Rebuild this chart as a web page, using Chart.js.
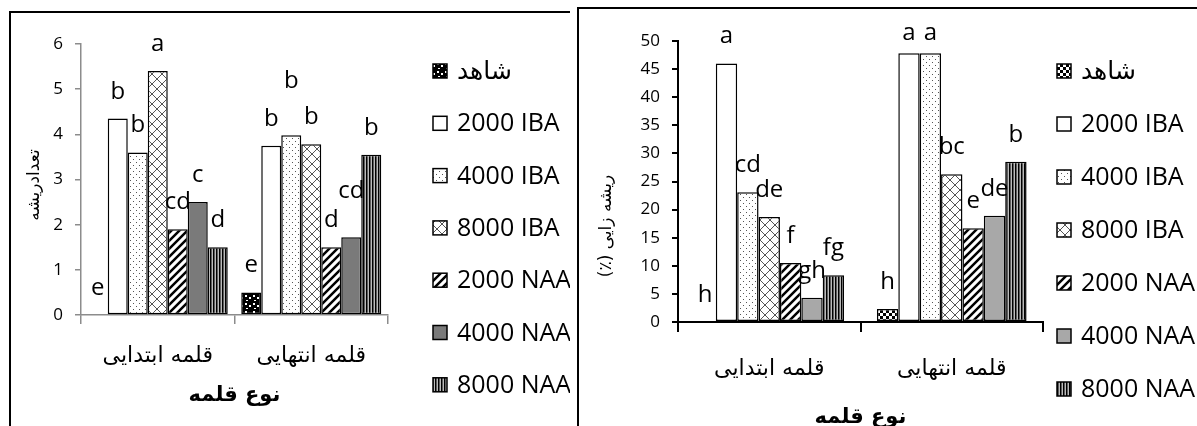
<!DOCTYPE html>
<html>
<head>
<meta charset="utf-8">
<script src="https://cdn.jsdelivr.net/npm/chart.js@4.4.0/dist/chart.umd.min.js"></script>
<style>
  html, body { margin: 0; padding: 0; background: #fff; overflow: hidden; width: 1197px; height: 426px; }
  .frame { position: absolute; border-left: 2px solid #000; border-top: 2px solid #000; background: #fff; }
  canvas { position: absolute; }
</style>
</head>
<body>
<div class="frame" style="left:9px; top:11px; width:559px; height:440px;"></div>
<div class="frame" style="left:577px; top:7px; width:640px; height:440px;"></div>
<canvas id="countChart" width="558" height="412" style="left:12px; top:14px;"></canvas>
<canvas id="rootChart" width="617" height="440" style="left:580px; top:10px;"></canvas>
<script>
const categories = ['قلمه ابتدایی', 'قلمه انتهایی'];
const treatments = ['شاهد', '2000 IBA', '4000 IBA', '8000 IBA', '2000 NAA', '4000 NAA', '8000 NAA'];

// chart 1 : تعدادریشه
const countInitial = [0, 4.35, 3.6, 5.4, 1.9, 2.5, 1.5];
const countTerminal = [0.5, 3.75, 3.98, 3.78, 1.5, 1.72, 3.55];
const countLettersInitial = ['e', 'b', 'b', 'a', 'cd', 'c', 'd'];
const countLettersTerminal = ['e', 'b', 'b', 'b', 'd', 'cd', 'b'];
const countTicks = [0, 1, 2, 3, 4, 5, 6];

// chart 2 : ریشه زایی (%)
const rootInitial = [0, 46, 23.1, 18.7, 10.5, 4.3, 8.3];
const rootTerminal = [2.3, 47.8, 47.8, 26.3, 16.7, 18.9, 28.5];
const rootLettersInitial = ['h', 'a', 'cd', 'de', 'f', 'gh', 'fg'];
const rootLettersTerminal = ['h', 'a', 'a', 'bc', 'e', 'de', 'b'];
const rootTicks = [0, 5, 10, 15, 20, 25, 30, 35, 40, 45, 50];

const latin = '"Open Sans", sans-serif';
const arabic = '"DejaVu Sans", sans-serif';

// excel style hatch fills
function makePattern(kind) {
  const size = { confetti: 8, checker: 6, dots: 6, cross: 10, diag: 8, vlines: 3 }[kind];
  const c = document.createElement('canvas');
  c.width = c.height = size;
  const g = c.getContext('2d');
  g.fillStyle = '#fff';
  g.fillRect(0, 0, size, size);
  g.fillStyle = '#000';
  g.strokeStyle = '#000';
  if (kind === 'confetti') {
    g.fillRect(0, 0, 8, 8);
    g.fillStyle = '#fff';
    g.fillRect(1, 1, 2, 2);
    g.fillRect(5, 3, 2, 2);
    g.fillRect(2, 6, 2, 1);
  } else if (kind === 'checker') {
    g.fillRect(0, 0, 3, 3);
    g.fillRect(3, 3, 3, 3);
  } else if (kind === 'dots') {
    g.fillStyle = '#555';
    g.fillRect(1, 1, 1, 1);
    g.fillRect(4, 4, 1, 1);
  } else if (kind === 'cross') {
    g.strokeStyle = '#555';
    g.lineWidth = 1;
    g.beginPath();
    g.moveTo(0, 0); g.lineTo(10, 10);
    g.moveTo(10, 0); g.lineTo(0, 10);
    g.stroke();
  } else if (kind === 'diag') {
    g.lineWidth = 2.5;
    g.beginPath();
    g.moveTo(-2, 10); g.lineTo(10, -2);
    g.moveTo(-6, 6); g.lineTo(6, -6);
    g.moveTo(2, 14); g.lineTo(14, 2);
    g.stroke();
  } else if (kind === 'vlines') {
    g.fillStyle = '#bbb';
    g.fillRect(0, 0, 3, 3);
    g.fillStyle = '#000';
    g.fillRect(0, 0, 1.5, 3);
  }
  return g.createPattern(c, 'repeat');
}

const decorations = {
  id: 'decorations',
  afterDraw(chart, args, o) {
    const ctx = chart.ctx;
    ctx.save();
    ctx.fillStyle = '#000';

    // letters over bars
    ctx.font = '24px ' + latin;
    ctx.textAlign = 'center';
    ctx.textBaseline = 'alphabetic';
    chart.data.datasets.forEach((ds, i) => {
      chart.getDatasetMeta(i).data.forEach((bar, j) => {
        const raise = o.raise[j + '-' + i] || 0;
        const y = Math.max(bar.y - o.gap - raise, o.minBaseline);
        ctx.fillText(ds.letters[j], bar.x, y);
      });
    });

    // legend
    ctx.textAlign = 'left';
    ctx.textBaseline = 'middle';
    ctx.lineWidth = 1.5;
    ctx.strokeStyle = '#000';
    chart.data.datasets.forEach((ds, i) => {
      const y = o.legend.y + i * o.legend.step;
      ctx.fillStyle = ds.backgroundColor;
      ctx.fillRect(o.legend.x, y - 7, 14, 14);
      ctx.strokeRect(o.legend.x, y - 7, 14, 14);
      ctx.fillStyle = '#000';
      ctx.font = '25px ' + (i === 0 ? arabic : latin);
      ctx.fillText(ds.label, o.legend.x + o.legend.textDx, y + 1);
    });

    // rotated y title
    ctx.translate(o.yTitle.x, o.yTitle.y);
    ctx.rotate(-Math.PI / 2);
    ctx.textAlign = 'center';
    ctx.font = o.yTitle.size + 'px ' + arabic;
    ctx.fillText(o.yTitle.text, 0, 0);
    ctx.restore();
  }
};

function buildChart(id, cfg) {
  const datasets = treatments.map((name, i) => ({
    label: name,
    data: [cfg.initial[i], cfg.terminal[i]],
    letters: [cfg.lettersInitial[i], cfg.lettersTerminal[i]],
    backgroundColor: cfg.fills[i],
    borderColor: '#000',
    borderWidth: 1.5,
    borderSkipped: false,
    categoryPercentage: cfg.groupWidth,
    barPercentage: 1
  }));

  return new Chart(document.getElementById(id), {
    type: 'bar',
    data: { labels: categories, datasets: datasets },
    options: {
      responsive: false,
      animation: false,
      layout: { padding: cfg.padding },
      plugins: {
        legend: { display: false },
        tooltip: { enabled: false },
        decorations: cfg.deco
      },
      scales: {
        x: {
          offset: true,
          grid: { drawOnChartArea: false, offset: true, color: cfg.axisColor, lineWidth: cfg.axisWidth, tickLength: cfg.xTickLength },
          border: { color: cfg.axisColor, width: cfg.axisWidth },
          ticks: { color: '#000', font: { family: arabic, size: 22 }, padding: cfg.xLabelPadding, maxRotation: 0, autoSkip: false },
          title: {
            display: true,
            text: 'نوع قلمه',
            color: '#000',
            font: { family: arabic, size: 21, weight: 'bold' },
            padding: { top: 0, bottom: cfg.xTitleBottom }
          },
          afterFit: (axis) => { axis.height = cfg.xHeight; }
        },
        y: {
          min: cfg.ticks[0],
          max: cfg.ticks[cfg.ticks.length - 1],
          afterBuildTicks: (axis) => { axis.ticks = cfg.ticks.map(v => ({ value: v })); },
          grid: { drawOnChartArea: false, color: cfg.axisColor, lineWidth: cfg.axisWidth, tickLength: 6 },
          border: { color: cfg.axisColor, width: cfg.axisWidth },
          ticks: { color: '#000', font: { family: latin, size: 17 }, padding: 12 },
          afterFit: (axis) => { axis.width = cfg.yWidth; }
        }
      }
    },
    plugins: [decorations]
  });
}

buildChart('countChart', {
  initial: countInitial,
  terminal: countTerminal,
  lettersInitial: countLettersInitial,
  lettersTerminal: countLettersTerminal,
  ticks: countTicks,
  fills: [makePattern('confetti'), '#fff', makePattern('dots'), makePattern('cross'), makePattern('diag'), '#7a7a7a', makePattern('vlines')],
  groupWidth: 0.912,
  padding: { left: 0, right: 182, top: 30, bottom: 0 },
  yWidth: 69,
  xHeight: 111,
  xTickLength: 9,
  xLabelPadding: 19,
  xTitleBottom: 18,
  axisColor: '#8c8c8c',
  axisWidth: 1.5,
  deco: {
    gap: 20,
    minBaseline: 0,
    raise: { '1-2': 27, '1-5': 19 },
    legend: { x: 421, textDx: 24, y: 57, step: 52.3 },
    yTitle: { text: 'تعدادریشه', x: 23, y: 171, size: 17 }
  }
});

buildChart('rootChart', {
  initial: rootInitial,
  terminal: rootTerminal,
  lettersInitial: rootLettersInitial,
  lettersTerminal: rootLettersTerminal,
  ticks: rootTicks,
  fills: [makePattern('checker'), '#fff', makePattern('dots'), makePattern('cross'), makePattern('diag'), '#a8a8a8', makePattern('vlines')],
  groupWidth: 0.82,
  padding: { left: 0, right: 154, top: 31, bottom: 0 },
  yWidth: 98,
  xHeight: 128,
  xTickLength: 10,
  xLabelPadding: 24,
  xTitleBottom: 20,
  axisColor: '#000',
  axisWidth: 2,
  deco: {
    gap: 20,
    minBaseline: 30,
    raise: {},
    legend: { x: 477, textDx: 24, y: 61, step: 53 },
    yTitle: { text: '(٪) ریشه زایی', x: 27, y: 216, size: 17 }
  }
});
</script>
</body>
</html>
